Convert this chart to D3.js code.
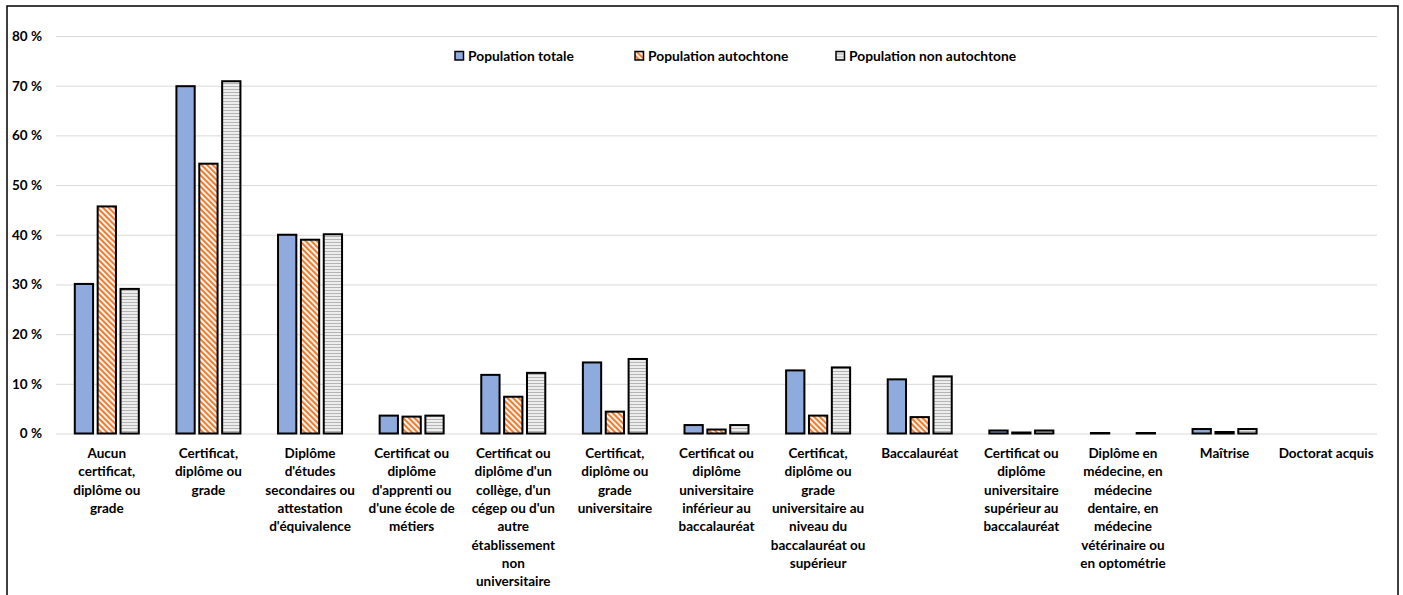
<!DOCTYPE html>
<html lang="fr">
<head>
<meta charset="utf-8">
<script src="https://cdn.jsdelivr.net/npm/d3@7"></script>
<style>
  html, body { margin: 0; padding: 0; background: #fff; }
  svg { display: block; font-family: Lato, "Open Sans", sans-serif; font-weight: 700; }
</style>
</head>
<body>
<svg id="chart" width="1403" height="595"></svg>
<script>
// Niveaux de scolarité (retours à la ligne marqués par \n)
const categories = [
  "Aucun\ncertificat,\ndiplôme ou\ngrade",
  "Certificat,\ndiplôme ou\ngrade",
  "Diplôme\nd'études\nsecondaires ou\nattestation\nd'équivalence",
  "Certificat ou\ndiplôme\nd'apprenti ou\nd'une école de\nmétiers",
  "Certificat ou\ndiplôme d'un\ncollège, d'un\ncégep ou d'un\nautre\nétablissement\nnon\nuniversitaire",
  "Certificat,\ndiplôme ou\ngrade\nuniversitaire",
  "Certificat ou\ndiplôme\nuniversitaire\ninférieur au\nbaccalauréat",
  "Certificat,\ndiplôme ou\ngrade\nuniversitaire au\nniveau du\nbaccalauréat ou\nsupérieur",
  "Baccalauréat",
  "Certificat ou\ndiplôme\nuniversitaire\nsupérieur au\nbaccalauréat",
  "Diplôme en\nmédecine, en\nmédecine\ndentaire, en\nmédecine\nvétérinaire ou\nen optométrie",
  "Maîtrise",
  "Doctorat acquis"
];

const seriesNames = ["Population totale", "Population autochtone", "Population non autochtone"];

// Pourcentages par série (null = aucune valeur)
const populationTotale      = [30.1, 69.9, 40.0, 3.6, 11.8, 14.3, 1.7, 12.7, 10.9, 0.6, 0.1, 0.9, null];
const populationAutochtone  = [45.7, 54.3, 39.0, 3.4, 7.4, 4.4, 0.8, 3.6, 3.3, 0.2, null, 0.3, null];
const populationNonAutochtone = [29.1, 70.9, 40.1, 3.6, 12.2, 15.0, 1.7, 13.3, 11.5, 0.6, 0.1, 0.9, null];

const yTicks = [0, 10, 20, 30, 40, 50, 60, 70, 80];

const seriesValues = [populationTotale, populationAutochtone, populationNonAutochtone];
const seriesFills = ["#8faadc", "url(#hatchOrange)", "url(#stripeGrey)"];

const svg = d3.select("#chart");

// Motifs de remplissage
const defs = svg.append("defs");
const po = defs.append("pattern")
  .attr("id", "hatchOrange")
  .attr("patternUnits", "userSpaceOnUse")
  .attr("width", 4).attr("height", 4)
  .attr("patternTransform", "rotate(-45)");
po.append("rect").attr("width", 4).attr("height", 4).attr("fill", "#ffffff");
po.append("rect").attr("width", 2.2).attr("height", 4).attr("fill", "#ed7d31");

const pg = defs.append("pattern")
  .attr("id", "stripeGrey")
  .attr("patternUnits", "userSpaceOnUse")
  .attr("width", 4).attr("height", 3);
pg.append("rect").attr("width", 4).attr("height", 3).attr("fill", "#ededed");
pg.append("rect").attr("y", 2).attr("width", 4).attr("height", 1).attr("fill", "#b4b4b4");

// Cadre
svg.append("rect")
  .attr("x", 7).attr("y", 6)
  .attr("width", 1391).attr("height", 600)
  .attr("fill", "none").attr("stroke", "#000").attr("stroke-width", 1.5);

const plot = { left: 56, right: 1377, top: 36, bottom: 433.5 };

const y = d3.scaleLinear().domain([0, 80]).range([plot.bottom, plot.top]);

const x0 = d3.scaleBand()
  .domain(d3.range(categories.length))
  .range([plot.left, plot.right])
  .paddingInner(0.37)
  .paddingOuter(0.185);

const x1 = d3.scaleBand()
  .domain(d3.range(seriesNames.length))
  .range([0, x0.bandwidth()])
  .paddingInner(0.2);

// Grille horizontale
const yAxis = d3.axisLeft(y)
  .tickValues(yTicks)
  .tickSize(-(plot.right - plot.left))
  .tickPadding(14)
  .tickFormat(d => d + " %");

const gy = svg.append("g")
  .attr("transform", `translate(${plot.left},0)`)
  .call(yAxis);
gy.select(".domain").remove();
gy.selectAll(".tick line").attr("stroke", "#d9d9d9").attr("stroke-width", 1);
gy.selectAll(".tick text")
  .attr("fill", "#000")
  .style("font-size", "13.5px")
  .style("font-family", "Lato, 'Open Sans', sans-serif")
  .style("font-weight", 700);

// Barres
const groups = svg.append("g").selectAll("g")
  .data(categories.map((c, i) => i))
  .join("g")
  .attr("transform", i => `translate(${x0(i)},0)`);

groups.selectAll("rect")
  .data(i => seriesValues.map((vals, s) => ({ s, v: vals[i] })).filter(d => d.v !== null))
  .join("rect")
  .attr("x", d => x1(d.s))
  .attr("width", x1.bandwidth())
  .attr("y", d => y(d.v))
  .attr("height", d => y(0) - y(d.v))
  .attr("fill", d => seriesFills[d.s])
  .attr("stroke", "#000")
  .attr("stroke-width", 2);

// Libellés des catégories
const labels = svg.append("g").selectAll("text")
  .data(categories)
  .join("text")
  .attr("text-anchor", "middle")
  .attr("x", (d, i) => x0(i) + x0.bandwidth() / 2)
  .attr("y", 458)
  .style("font-size", "13.5px")
  .attr("fill", "#000");
labels.each(function (d) {
  const t = d3.select(this);
  d.split("\n").forEach((line, k) => {
    t.append("tspan")
      .attr("x", t.attr("x"))
      .attr("dy", k === 0 ? 0 : 18.3)
      .text(line);
  });
});

// Légende
const legendX = [455, 635, 836];
const legend = svg.append("g").selectAll("g")
  .data(seriesNames)
  .join("g")
  .attr("transform", (d, i) => `translate(${legendX[i]},51.5)`);
legend.append("rect")
  .attr("width", 8.5).attr("height", 8.5)
  .attr("fill", (d, i) => seriesFills[i])
  .attr("stroke", "#000").attr("stroke-width", 1.5);
legend.append("text")
  .attr("x", 13).attr("y", 9)
  .style("font-size", "13.8px")
  .attr("fill", "#000")
  .text(d => d);
</script>
</body>
</html>
